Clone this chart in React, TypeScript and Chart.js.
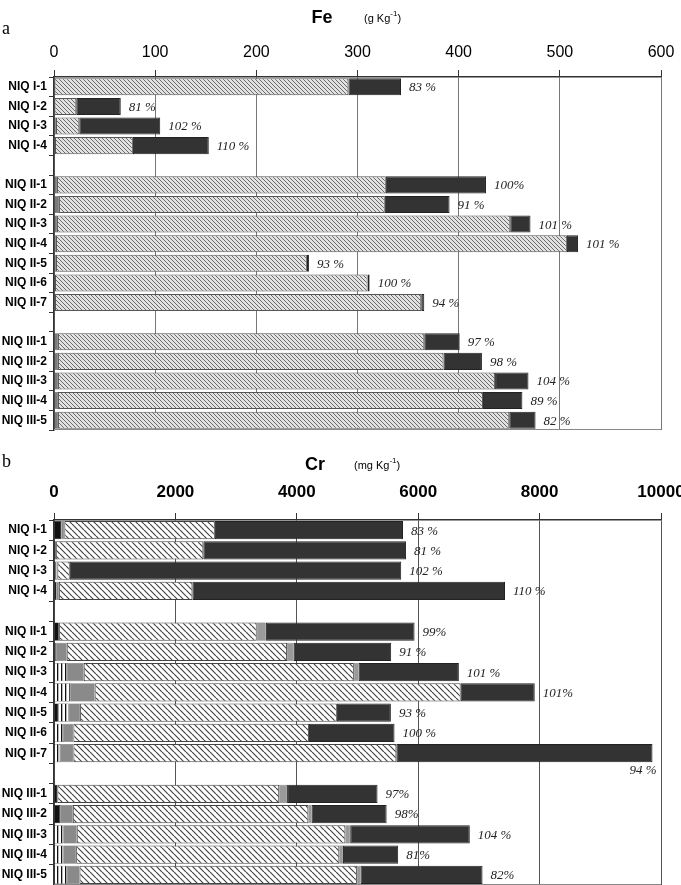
import React, { useEffect, useRef } from "react";
import { Chart, registerables } from "chart.js";

Chart.register(...registerables);

// ---------- data ----------
const sampleLabels = [
  "NIQ I-1", "NIQ I-2", "NIQ I-3", "NIQ I-4", "",
  "NIQ II-1", "NIQ II-2", "NIQ II-3", "NIQ II-4", "NIQ II-5", "NIQ II-6", "NIQ II-7", "",
  "NIQ III-1", "NIQ III-2", "NIQ III-3", "NIQ III-4", "NIQ III-5",
];

// Fe (g Kg-1)
const feTicks = [0, 100, 200, 300, 400, 500, 600];
const feGray = [0, 0, 2, 1, null, 3, 5, 3, 2, 2, 1, 1, null, 4, 4, 4, 4, 4];
const feHatched = [291, 22, 23, 77, null, 325, 322, 448, 505, 248, 309, 362, null, 362, 381, 432, 420, 446];
const feDark = [52, 44, 80, 75, null, 99, 64, 20, 11, 2, 2, 3, null, 35, 38, 33, 39, 26];
const feRecovery = ["83 %", "81 %", "102 %", "110 %", "", "100%", "91 %", "101 %", "101 %", "93 %", "100 %", "94 %", "", "97 %", "98 %", "104 %", "89 %", "82 %"];

// Cr (mg Kg-1)
const crTicks = [0, 2000, 4000, 6000, 8000, 10000];
const crBlack = [120, 30, 30, 40, null, 80, 30, 0, 0, 70, 0, 0, null, 55, 100, 0, 0, 0];
const crStriped = [0, 0, 25, 0, null, 0, 0, 210, 265, 170, 145, 100, null, 0, 0, 155, 155, 210];
const crGray = [50, 0, 0, 40, null, 0, 180, 280, 405, 190, 175, 220, null, 0, 210, 220, 210, 210];
const crHatched = [2480, 2430, 205, 2200, null, 3260, 3630, 4450, 6030, 4230, 3880, 5320, null, 3655, 3880, 4425, 4335, 4570];
const crLightGray = [0, 0, 0, 0, null, 150, 110, 80, 0, 0, 0, 0, null, 130, 55, 80, 60, 60];
const crDark = [3100, 3340, 5460, 5150, null, 2450, 1605, 1650, 1220, 890, 1410, 4220, null, 1490, 1235, 1970, 910, 2010];
const crRecovery = ["83 %", "81 %", "102 %", "110 %", "", "99%", "91 %", "101 %", "101%", "93 %", "100 %", "94 %", "", "97%", "98%", "104 %", "81%", "82%"];

// ---------- patterns ----------
function diagPattern(size: number, bg: string, fg: string, lw: number) {
  const c = document.createElement("canvas");
  c.width = size;
  c.height = size;
  const g = c.getContext("2d")!;
  g.fillStyle = bg;
  g.fillRect(0, 0, size, size);
  g.strokeStyle = fg;
  g.lineWidth = lw;
  g.beginPath();
  for (const o of [-size, 0, size]) {
    g.moveTo(o, 0);
    g.lineTo(o + size, size);
  }
  g.stroke();
  return g.createPattern(c, "repeat")!;
}

function vertPattern(size: number, bg: string, fg: string, lw: number) {
  const c = document.createElement("canvas");
  c.width = size;
  c.height = size;
  const g = c.getContext("2d")!;
  g.fillStyle = bg;
  g.fillRect(0, 0, size, size);
  g.fillStyle = fg;
  g.fillRect(1, 0, lw, size);
  return g.createPattern(c, "repeat")!;
}

// ---------- plugins ----------
const recoveryPlugin = {
  id: "recoveryLabels",
  afterDatasetsDraw(chart: any, _args: any, opts: any) {
    const labels: string[] = opts.labels || [];
    const ctx = chart.ctx;
    const metas = chart.getSortedVisibleDatasetMetas();
    ctx.save();
    ctx.font = "italic 13px 'Liberation Serif', 'Times New Roman', serif";
    ctx.fillStyle = "#222";
    ctx.textBaseline = "middle";
    labels.forEach((txt, i) => {
      if (!txt) return;
      let endX = -Infinity;
      let y = 0;
      let h = 0;
      metas.forEach((m: any) => {
        const el = m.data[i];
        if (el && isFinite(el.x)) {
          endX = Math.max(endX, el.x);
          y = el.y;
          h = el.height;
        }
      });
      const w = ctx.measureText(txt).width;
      if (endX + 8 + w > chart.width - 4) {
        ctx.textAlign = "right";
        ctx.fillText(txt, endX + 4, y + h / 2 + 8);
      } else {
        ctx.textAlign = "left";
        ctx.fillText(txt, endX + 8, y + 1);
      }
    });
    ctx.restore();
  },
};

const framePlugin = {
  id: "panelFrame",
  afterDraw(chart: any, _args: any, opts: any) {
    const ctx = chart.ctx;
    const a = chart.chartArea;
    ctx.save();
    // bottom frame line
    ctx.strokeStyle = "#888";
    ctx.lineWidth = 1;
    ctx.beginPath();
    ctx.moveTo(a.left, a.bottom - 0.5);
    ctx.lineTo(a.right, a.bottom - 0.5);
    ctx.stroke();
    // panel letter
    ctx.fillStyle = "#000";
    ctx.textBaseline = "middle";
    ctx.textAlign = "left";
    ctx.font = "18px 'Liberation Serif', 'Times New Roman', serif";
    ctx.fillText(opts.letter, 2, opts.letterY);
    // element symbol
    ctx.textAlign = "center";
    ctx.font = "bold 18px 'Liberation Sans', Arial, sans-serif";
    ctx.fillText(opts.symbol, opts.symbolX, opts.titleY);
    // unit with superscript
    ctx.textAlign = "left";
    ctx.font = "11px 'Liberation Sans', Arial, sans-serif";
    let x = opts.unitX;
    ctx.fillText(opts.unit, x, opts.titleY + 1);
    x += ctx.measureText(opts.unit).width;
    ctx.font = "8px 'Liberation Sans', Arial, sans-serif";
    ctx.fillText("-1", x, opts.titleY - 4);
    x += ctx.measureText("-1").width;
    ctx.font = "11px 'Liberation Sans', Arial, sans-serif";
    ctx.fillText(")", x, opts.titleY + 1);
    ctx.restore();
  },
};

function buildConfig(p: {
  datasets: any[];
  ticks: number[];
  tickFont: any;
  tickPad: number;
  topH: number;
  bottomPad: number;
  gridColor: string;
  recovery: string[];
  frame: any;
}) {
  const max = p.ticks[p.ticks.length - 1];
  const step = p.ticks[1] - p.ticks[0];
  return {
    type: "bar",
    data: { labels: sampleLabels, datasets: p.datasets },
    options: {
      indexAxis: "y",
      animation: false,
      responsive: false,
      maintainAspectRatio: false,
      layout: { padding: { left: 0, right: 20, top: 0, bottom: p.bottomPad } },
      plugins: {
        legend: { display: false },
        tooltip: { enabled: false },
        recoveryLabels: { labels: p.recovery },
        panelFrame: p.frame,
      },
      scales: {
        x: {
          position: "top",
          stacked: true,
          min: 0,
          max,
          afterBuildTicks: (scale: any) => {
            scale.ticks = p.ticks.map((v) => ({ value: v }));
          },
          ticks: {
            stepSize: step,
            color: "#000",
            font: p.tickFont,
            padding: p.tickPad,
            maxRotation: 0,
            callback: (v: any) => String(v),
          },
          grid: { color: p.gridColor, lineWidth: 1, tickLength: 7, tickColor: "#333" },
          border: { color: "#333", width: 1.5 },
          afterFit: (scale: any) => {
            scale.height = p.topH;
            scale.paddingLeft = 0;
            scale.paddingRight = 0;
          },
        },
        y: {
          stacked: true,
          ticks: {
            color: "#000",
            font: { family: "'Liberation Sans', Arial, sans-serif", size: 12, weight: "bold" },
            padding: 2,
            autoSkip: false,
          },
          grid: { offset: true, drawOnChartArea: false, drawTicks: true, tickLength: 5, color: "#333" },
          border: { color: "#333", width: 1.5 },
          afterFit: (scale: any) => {
            scale.width = 54;
            scale.paddingTop = 0;
            scale.paddingBottom = 0;
          },
        },
      },
    },
    plugins: [recoveryPlugin, framePlugin],
  } as any;
}

function seg(data: (number | null)[], bg: any, border: string, bw: number, barPct: number) {
  return {
    data,
    backgroundColor: bg,
    borderColor: border,
    borderWidth: bw,
    borderSkipped: false,
    barPercentage: barPct,
    categoryPercentage: 1,
    stack: "s",
  };
}

export default function App() {
  const aRef = useRef<HTMLCanvasElement>(null);
  const bRef = useRef<HTMLCanvasElement>(null);

  useEffect(() => {
    const feHatch = diagPattern(4, "#e2e2e2", "#6a6a6a", 1);
    const crHatch = diagPattern(6, "#ffffff", "#444444", 1.2);
    const crStripe = vertPattern(4, "#ffffff", "#111111", 1.3);

    const ca = new Chart(
      aRef.current!,
      buildConfig({
        datasets: [
          seg(feGray, "#7a7a7a", "#444", 0.5, 0.87),
          seg(feHatched, feHatch, "#555", 1, 0.87),
          seg(feDark, "#333", "#222", 1, 0.87),
        ],
        ticks: feTicks,
        tickFont: { family: "'Liberation Sans', Arial, sans-serif", size: 16 },
        tickPad: 8,
        topH: 77,
        bottomPad: 10,
        gridColor: "#777",
        recovery: feRecovery,
        frame: { letter: "a", letterY: 29, symbol: "Fe", symbolX: 322, titleY: 18, unit: "(g Kg", unitX: 364 },
      })
    );

    const cb = new Chart(
      bRef.current!,
      buildConfig({
        datasets: [
          seg(crBlack, "#111", "#111", 0.5, 0.9),
          seg(crStriped, crStripe, "#222", 0.5, 0.9),
          seg(crGray, "#8a8a8a", "#555", 0.5, 0.9),
          seg(crHatched, crHatch, "#444", 1, 0.9),
          seg(crLightGray, "#9a9a9a", "#555", 0.5, 0.9),
          seg(crDark, "#333", "#222", 1, 0.9),
        ],
        ticks: crTicks,
        tickFont: { family: "'Liberation Sans', Arial, sans-serif", size: 17, weight: "bold" },
        tickPad: 10,
        topH: 80,
        bottomPad: 0,
        gridColor: "#555",
        recovery: crRecovery,
        frame: { letter: "b", letterY: 22, symbol: "Cr", symbolX: 315, titleY: 25, unit: "(mg Kg", unitX: 354 },
      })
    );

    return () => {
      ca.destroy();
      cb.destroy();
    };
  }, []);

  return (
    <div style={{ position: "absolute", left: 0, top: 0, width: 681, height: 885, background: "#fff", overflow: "hidden" }}>
      <canvas ref={aRef} width={681} height={440} style={{ position: "absolute", left: 0, top: 0 }} />
      <canvas ref={bRef} width={681} height={445} style={{ position: "absolute", left: 0, top: 440 }} />
    </div>
  );
}
